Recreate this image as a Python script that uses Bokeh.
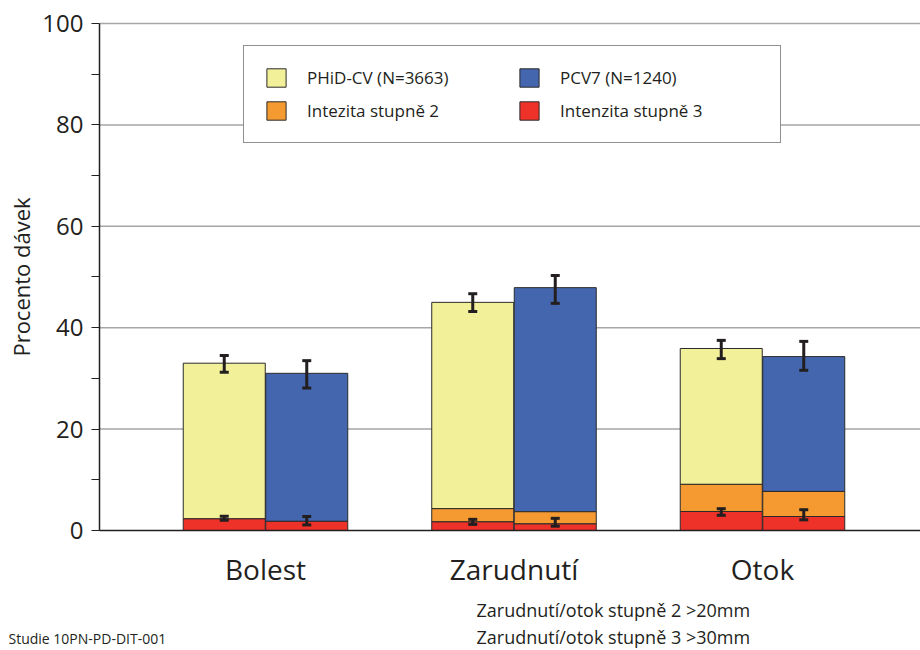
from bokeh.plotting import figure
from bokeh.models import (Range1d, Legend, LegendItem, Whisker, TeeHead,
                          ColumnDataSource, Label, FixedTicker)
from bokeh.embed import file_html
from bokeh.resources import INLINE

# ---- data ----
categories = ["Bolest", "Zarudnutí", "Otok"]
series = ["PHiD-CV (N=3663)", "PCV7 (N=1240)"]
legend_st2 = "Intezita stupně 2"
legend_st3 = "Intenzita stupně 3"

phid_total = [33.0, 45.0, 35.9]
phid_total_lo = [31.2, 43.2, 33.9]
phid_total_hi = [34.5, 46.7, 37.5]
phid_st2 = [None, 4.3, 9.1]          # Bolest: grade 2 band not shown
phid_st3 = [2.3, 1.7, 3.75]
phid_st3_lo = [2.0, 1.2, 3.0]
phid_st3_hi = [2.8, 2.2, 4.3]

pcv7_total = [31.0, 47.9, 34.3]
pcv7_total_lo = [28.1, 44.8, 31.6]
pcv7_total_hi = [33.5, 50.3, 37.3]
pcv7_st2 = [None, 3.7, 7.7]
pcv7_st3 = [1.8, 1.3, 2.76]
pcv7_st3_lo = [1.1, 0.85, 2.1]
pcv7_st3_hi = [2.76, 2.4, 4.1]

y_ticks = [0, 20, 40, 60, 80, 100]
y_minor = [10, 30, 50, 70, 90]
grid_ticks = [20, 40, 60, 80, 100]
y_bounds = (0, 100)

notes = ["Zarudnutí/otok stupně 2 >20mm", "Zarudnutí/otok stupně 3 >30mm"]
study = "Studie 10PN-PD-DIT-001"

# ---- style ----
FONT = "Open Sans"
C_YELLOW = "#F2F098"
C_BLUE = "#4466AF"
C_ORANGE = "#F59A30"
C_RED = "#EE3229"
C_EDGE = "#2a2a2a"
C_TEXT = "#231F20"
BAR_W = 0.33
OFF = 0.166

W, H = 920, 650
X0, X1 = -1.0664, 2.6358          # frame spans the whole canvas
Y0, Y1 = -23.669, 104.536
Y_AXIS_AT = -0.668                # where the value axis stands

p = figure(width=W, height=H, output_backend="svg", toolbar_location=None,
           x_range=Range1d(X0, X1), y_range=Range1d(Y0, Y1),
           min_border_left=0, min_border_right=0, min_border_top=0,
           min_border_bottom=0)
p.outline_line_color = None
p.background_fill_color = "white"
p.xgrid.visible = False
p.ygrid.visible = False

# grid lines from the axis to the right edge
p.segment(x0=[Y_AXIS_AT] * len(grid_ticks), x1=[X1] * len(grid_ticks),
          y0=grid_ticks, y1=grid_ticks, line_color="#A6A6A6", line_width=1.5)

idx = list(range(len(categories)))


def stack(xoff, total, st2, st3, top_color):
    xs = [i + xoff for i in idx]
    base_top = [s2 if s2 is not None else s3 for s2, s3 in zip(st2, st3)]
    r_top = p.vbar(x=xs, bottom=base_top, top=total, width=BAR_W,
                   fill_color=top_color, line_color=C_EDGE, line_width=1)
    ox = [x for x, s2 in zip(xs, st2) if s2 is not None]
    ob = [s3 for s3, s2 in zip(st3, st2) if s2 is not None]
    ot = [s2 for s2 in st2 if s2 is not None]
    r_or = p.vbar(x=ox, bottom=ob, top=ot, width=BAR_W,
                  fill_color=C_ORANGE, line_color=C_EDGE, line_width=1)
    r_red = p.vbar(x=xs, bottom=0, top=st3, width=BAR_W,
                   fill_color=C_RED, line_color=C_EDGE, line_width=1)
    return r_top, r_or, r_red


ry, ro, rr = stack(-OFF, phid_total, phid_st2, phid_st3, C_YELLOW)
rb, _, _ = stack(OFF, pcv7_total, pcv7_st2, pcv7_st3, C_BLUE)


def whisk(xoff, lo, hi):
    src = ColumnDataSource(dict(x=[i + xoff for i in idx], lo=lo, hi=hi))
    w = Whisker(base="x", lower="lo", upper="hi", source=src,
                dimension="height", line_width=3, line_color=C_TEXT,
                level="overlay",
                upper_head=TeeHead(size=9, line_width=3, line_color=C_TEXT),
                lower_head=TeeHead(size=9, line_width=3, line_color=C_TEXT))
    p.add_layout(w)


whisk(-OFF, phid_total_lo, phid_total_hi)
whisk(OFF, pcv7_total_lo, pcv7_total_hi)
whisk(-OFF, phid_st3_lo, phid_st3_hi)
whisk(OFF, pcv7_st3_lo, pcv7_st3_hi)

# ---- axes ----
p.yaxis.fixed_location = Y_AXIS_AT
p.yaxis.bounds = y_bounds
p.yaxis.ticker = FixedTicker(ticks=y_ticks, minor_ticks=y_minor)
p.yaxis.axis_label = "Procento dávek"
p.yaxis.axis_label_text_font = FONT
p.yaxis.axis_label_text_font_size = "22px"
p.yaxis.axis_label_text_font_style = "normal"
p.yaxis.axis_label_text_color = C_TEXT
p.yaxis.axis_label_standoff = 3
p.yaxis.major_label_text_font = FONT
p.yaxis.major_label_text_font_size = "24px"
p.yaxis.major_label_text_color = C_TEXT
p.yaxis.major_label_standoff = 8
p.yaxis.axis_line_color = C_TEXT
p.yaxis.axis_line_width = 1.5
p.yaxis.major_tick_out = 8
p.yaxis.major_tick_in = 0
p.yaxis.minor_tick_out = 8
p.yaxis.minor_tick_in = 0
p.yaxis.major_tick_line_color = C_TEXT
p.yaxis.minor_tick_line_color = C_TEXT
p.yaxis.major_tick_line_width = 1.2
p.yaxis.minor_tick_line_width = 1.2

p.xaxis.fixed_location = 0
p.xaxis.bounds = (Y_AXIS_AT, X1)
p.xaxis.ticker = FixedTicker(ticks=idx)
p.xaxis.major_label_overrides = {i: c for i, c in enumerate(categories)}
p.xaxis.major_label_text_font = FONT
p.xaxis.major_label_text_font_size = "28px"
p.xaxis.major_label_text_color = C_TEXT
p.xaxis.major_label_standoff = 14
p.xaxis.major_tick_line_color = None
p.xaxis.minor_tick_line_color = None
p.xaxis.axis_line_color = C_TEXT
p.xaxis.axis_line_width = 1.5

# ---- legend ----
legend = Legend(items=[LegendItem(label=series[0], renderers=[ry]),
                       LegendItem(label=legend_st2, renderers=[ro]),
                       LegendItem(label=series[1], renderers=[rb]),
                       LegendItem(label=legend_st3, renderers=[rr])],
                ncols=2, location=(243, 507),
                glyph_width=24, glyph_height=23, label_standoff=19,
                label_width=200, spacing=10, padding=20,
                label_text_font=FONT, label_text_font_size="17px",
                label_text_color=C_TEXT, border_line_color=C_TEXT,
                border_line_width=1.5, background_fill_alpha=1.0)
p.add_layout(legend)

# ---- notes ----
for k, t in enumerate(notes):
    p.add_layout(Label(x=476, y=41 - 27 * k, x_units="screen", y_units="screen",
                       text=t, text_font=FONT, text_font_size="18px",
                       text_color=C_TEXT, text_baseline="middle"))
p.add_layout(Label(x=8, y=12, x_units="screen", y_units="screen",
                   text=study, text_font=FONT, text_font_size="14px",
                   text_color=C_TEXT, text_baseline="middle"))

open("out.html", "w").write(file_html(p, INLINE))
